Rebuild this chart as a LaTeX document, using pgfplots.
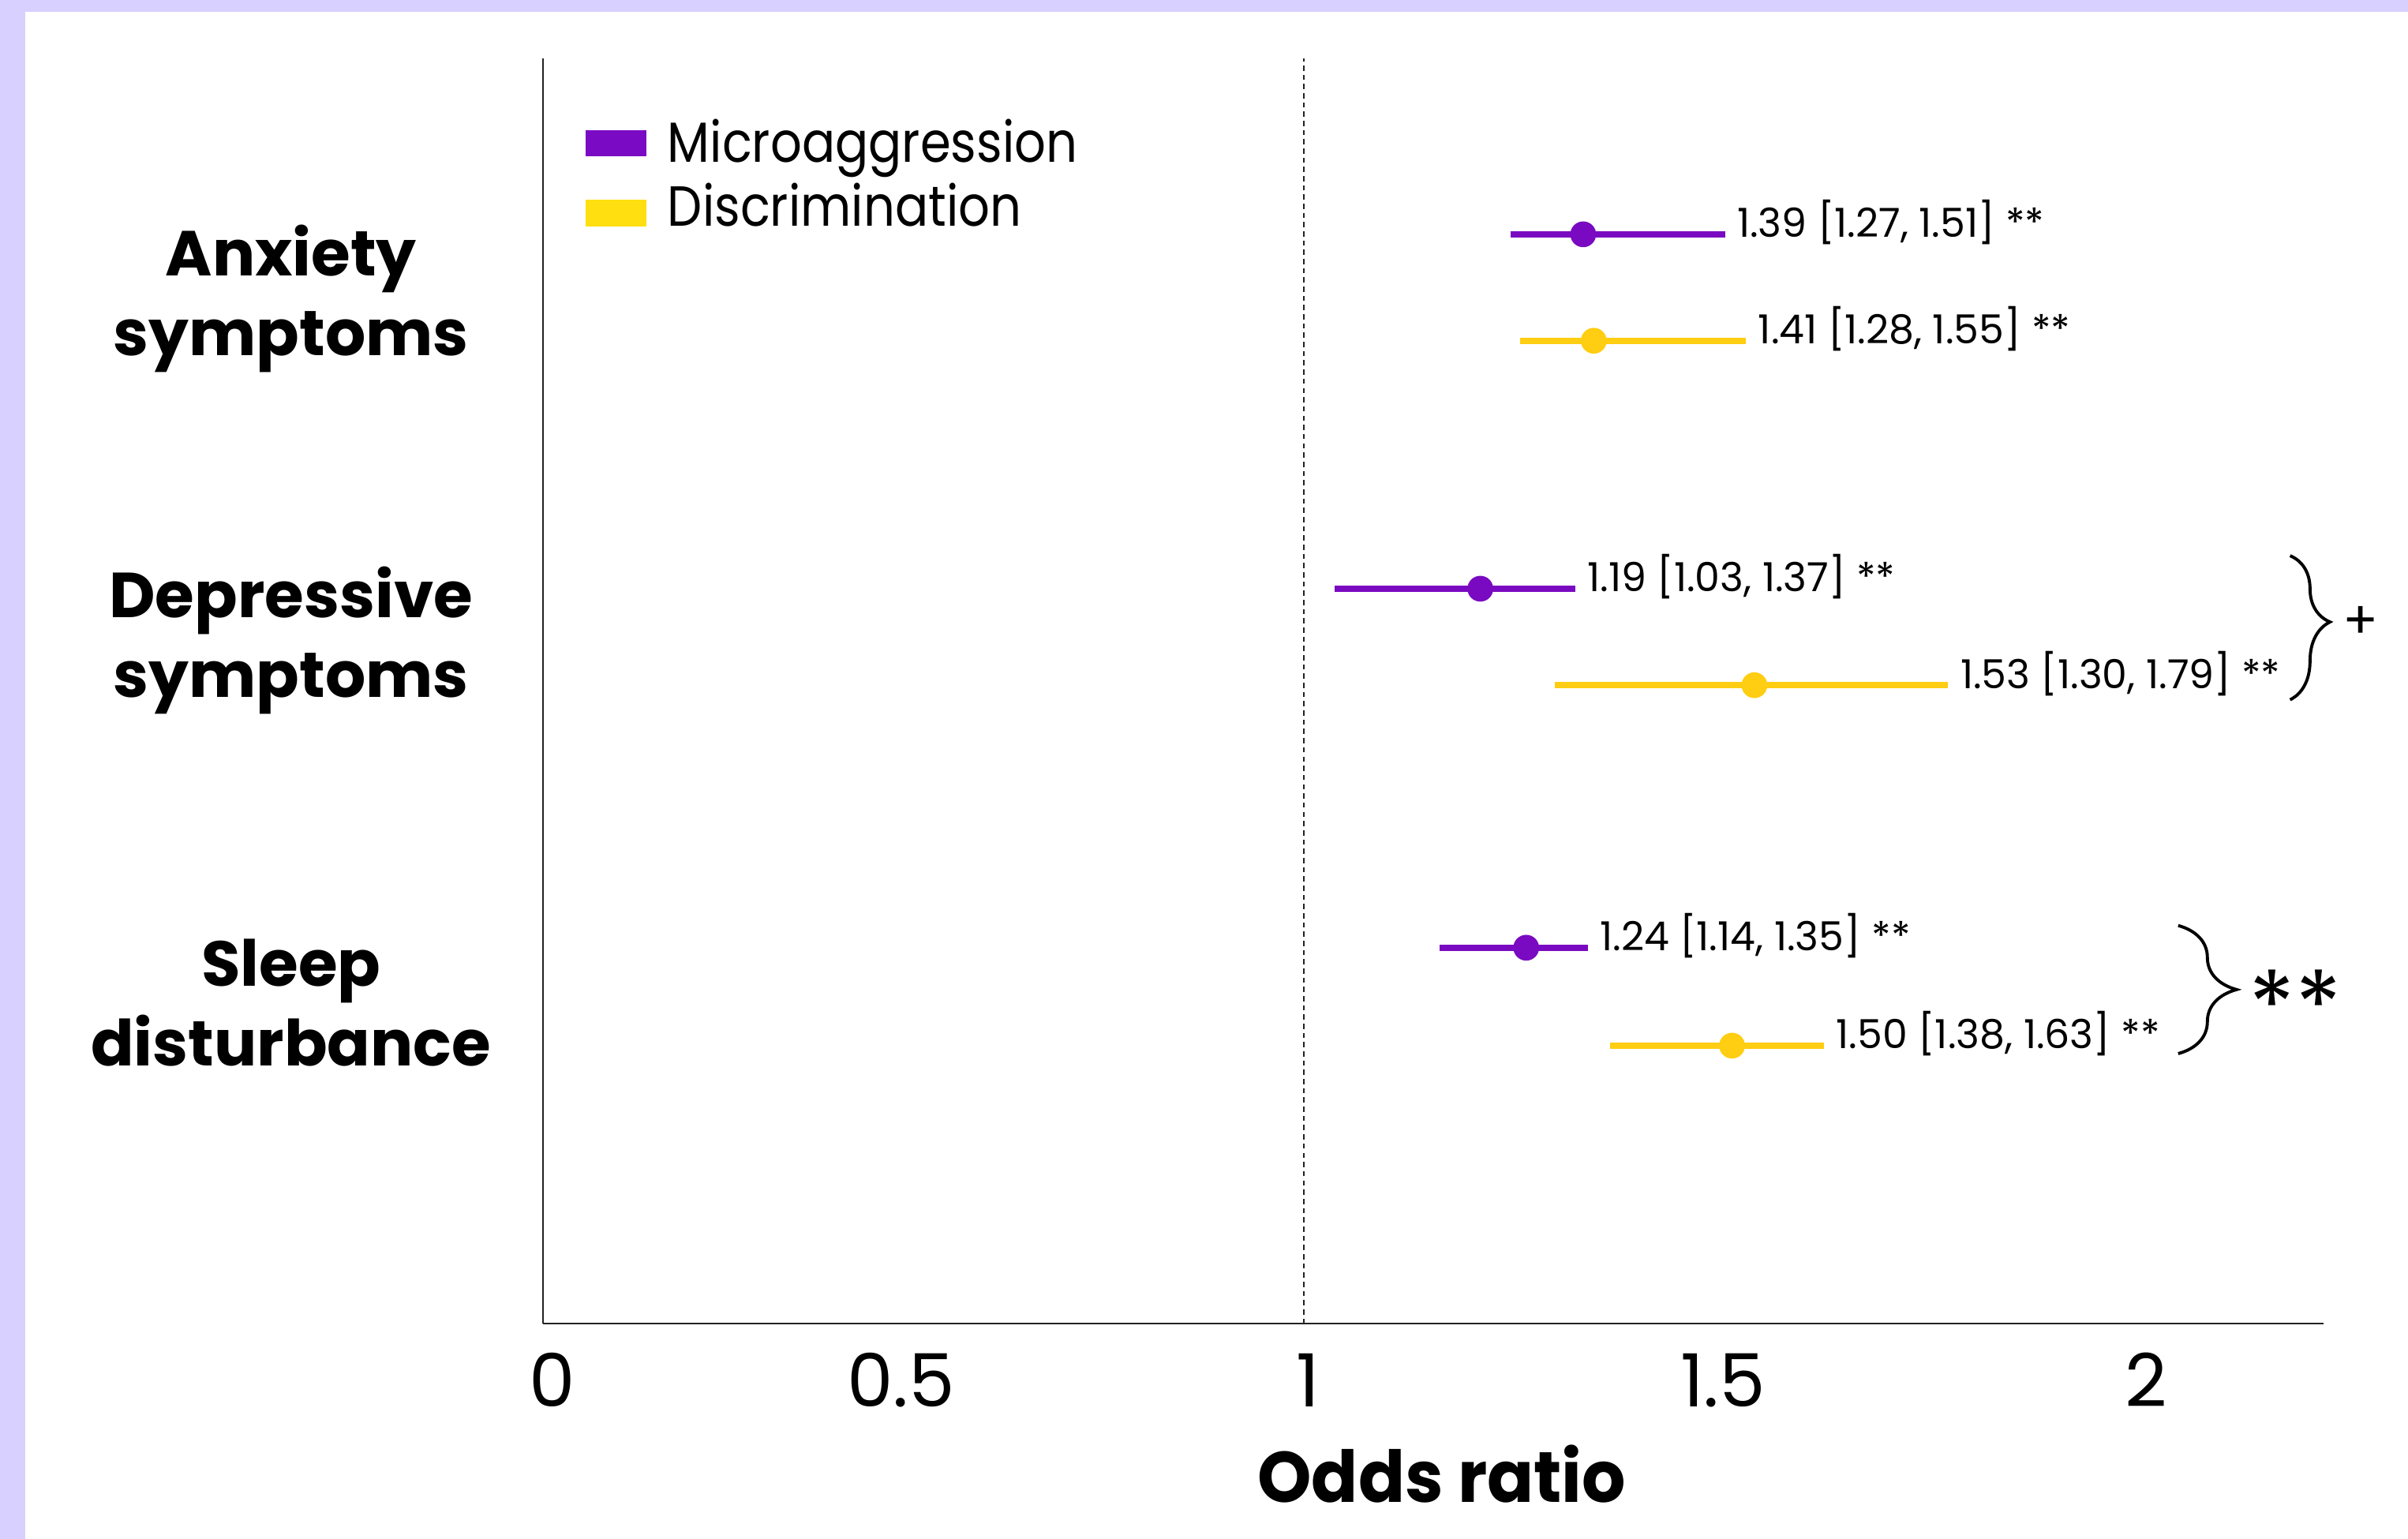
\documentclass[border=0pt]{standalone}
\usepackage{fontspec}
\setmainfont{Poppins}
\newfontfamily\legendfont[FakeStretch=0.872]{Poppins}
\newfontfamily\xlabfont[FakeStretch=0.96]{Poppins}
\usepackage{pgfplots}
\pgfplotsset{compat=1.18}
\usepackage{pgfplotstable}
\usetikzlibrary{decorations.pathreplacing}

\definecolor{mpurple}{RGB}{122,10,193}
\definecolor{lpurple}{RGB}{122,10,196}
\definecolor{myellow}{RGB}{255,205,17}
\definecolor{lyellow}{RGB}{255,223,16}
\definecolor{framecol}{RGB}{216,208,255}
\definecolor{axisgray}{RGB}{34,34,34}

% x: odds ratio position, y: row position, lo/hi: CI ends
\pgfplotstableread{
x y lo hi
1.3671 3.071 1.2716 1.5534
1.2319 2.072 1.0402 1.3566
1.2922 1.060 1.1784 1.3730
}\micro
\pgfplotstableread{
x y lo hi
1.3810 2.771 1.2846 1.5812
1.5921 1.800 1.3296 1.8468
1.5627 0.784 1.4020 1.6837
}\discr

\begin{document}
\begin{tikzpicture}
\useasboundingbox (-176.75pt,-70pt) rectangle (607.25pt,431pt);
\fill[framecol] (-176.75pt,-70pt) rectangle (607.25pt,431pt);
\fill[white] (-168.6pt,-70pt) rectangle (607.25pt,427.15pt);
\begin{axis}[
  at={(0pt,0pt)}, anchor=south west,
  width=579.75pt, height=412pt, scale only axis,
  xmin=0, xmax=2.34, ymin=0, ymax=3.567,
  axis lines=left,
  axis line style={axisgray, line width=0.6pt, -},
  major tick length=0pt,
  clip=false,
  xtick={0.0127,0.4704,1.006,1.5506,2.1072},
  xticklabels={0,0.5,1,1.5,2},
  xticklabel style={anchor=base, yshift=-27pt, inner sep=0pt, font=\fontsize{23.9}{28}\selectfont},
  ytick={0.905,1.927,2.889},
  yticklabels={{Sleep\\disturbance},{Depressive\\symptoms},{Anxiety\\symptoms}},
  yticklabel style={anchor=center, xshift=-82pt, align=center, inner sep=0pt, font=\fontsize{20.7}{26}\selectfont\bfseries},
  xlabel={Odds ratio},
  xlabel style={at={(rel axis cs:0.5048,0)}, anchor=base, yshift=-58.1pt, inner sep=0pt, font=\xlabfont\fontsize{23.3}{28}\selectfont\bfseries},
  legend style={at={(rel axis cs:0.0242,0.9498)}, anchor=north west, draw=none, fill=none,
    inner sep=0pt, outer sep=0pt, row sep=3pt, font=\legendfont\fontsize{18.4}{21}\selectfont,
    nodes={inner sep=0pt, text height=13pt, text depth=5pt},
    /tikz/every odd column/.append style={column sep=7pt}},
  legend cell align=left,
]
\addlegendimage{legend image code/.code={\fill[lpurple] (0pt,-2.1pt) rectangle (19.2pt,6.1pt);}}
\addlegendentry{Microaggression}
\addlegendimage{legend image code/.code={\fill[lyellow] (0pt,-3.8pt) rectangle (19.2pt,4.4pt);}}
\addlegendentry{Discrimination}

\addplot[axisgray, line width=0.5pt, dash pattern=on 1.7pt off 1.3pt, forget plot] coordinates {(1,0) (1,3.567)};

\addplot[mpurple, only marks, mark=*, mark size=4pt, forget plot,
  error bars/.cd, x dir=both, x explicit, error mark=none,
  error bar style={line width=2pt, mpurple}]
  table[x=x, y=y, x error minus expr=\thisrow{x}-\thisrow{lo}, x error plus expr=\thisrow{hi}-\thisrow{x}] {\micro};
\addplot[myellow, only marks, mark=*, mark size=4pt, forget plot,
  error bars/.cd, x dir=both, x explicit, error mark=none,
  error bar style={line width=2pt, myellow}]
  table[x=x, y=y, x error minus expr=\thisrow{x}-\thisrow{lo}, x error plus expr=\thisrow{hi}-\thisrow{x}] {\discr};

\tikzset{ann/.style={anchor=base west, inner sep=0pt, xshift=3.8pt, yshift=-1pt, font=\fontsize{13}{15}\selectfont}}
\node[ann] at (axis cs:1.5534,3.071) {1.39 [1.27, 1.51] **};
\node[ann] at (axis cs:1.5812,2.771) {1.41 [1.28, 1.55] **};
\node[ann] at (axis cs:1.3566,2.072) {1.19 [1.03, 1.37] **};
\node[ann] at (axis cs:1.8468,1.800) {1.53 [1.30, 1.79] **};
\node[ann] at (axis cs:1.3730,1.060) {1.24 [1.14, 1.35] **};
\node[ann] at (axis cs:1.6837,0.784) {1.50 [1.38, 1.63] **};

\draw[line width=1pt, decorate, decoration={brace, amplitude=13pt, aspect=0.46}]
  (axis cs:2.296,2.165) -- (axis cs:2.296,1.759);
\node[inner sep=0pt, font=\fontsize{17}{17}\selectfont] at (axis cs:2.389,1.977) {+};
\draw[line width=1pt, decorate, decoration={brace, amplitude=19pt}]
  (axis cs:2.149,1.1225) -- (axis cs:2.149,0.7615);
\node[inner sep=0pt, font=\fontsize{31}{31}\selectfont] at (axis cs:2.303,0.900) {**};
\end{axis}
\end{tikzpicture}
\end{document}
